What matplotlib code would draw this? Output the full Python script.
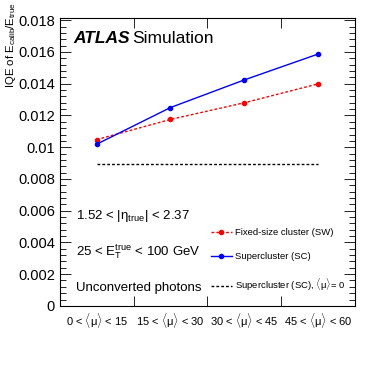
import numpy as np
import matplotlib.pyplot as plt
from matplotlib.ticker import MultipleLocator, FixedLocator, NullFormatter

plt.rcParams['font.family'] = ['Liberation Sans', 'DejaVu Sans']
plt.rcParams['mathtext.fontset'] = 'custom'
plt.rcParams['mathtext.rm'] = 'Liberation Sans'
plt.rcParams['mathtext.it'] = 'Liberation Sans:italic'

# data
bins = [r'0 < $\langle\mathrm{\mu}\rangle$ < 15', r'15 < $\langle\mathrm{\mu}\rangle$ < 30',
        r'30 < $\langle\mathrm{\mu}\rangle$ < 45', r'45 < $\langle\mathrm{\mu}\rangle$ < 60']
sw = [0.01048, 0.01175, 0.0128, 0.01399]
sc = [0.01019, 0.0125, 0.01424, 0.01587]
sc_mu0 = [0.00895, 0.00895, 0.00895, 0.00895]

x = np.arange(len(bins)) + 0.5

fig = plt.figure(figsize=(3.74, 3.65), dpi=100)
ax = fig.add_axes([0.160, 0.162, 0.789, 0.789])

ax.plot(x, sw, color='red', linestyle=(0, (2, 1.5)), lw=1, marker='o', ms=3,
        label='Fixed-size cluster (SW)')
ax.plot(x, sc, color='blue', lw=1, marker='o', ms=3, label='Supercluster (SC)')
ax.plot(x, sc_mu0, color='black', linestyle=(0, (2, 1.5)), lw=1,
        label=r'Supercluster (SC), $\langle\mathrm{\mu}\rangle$= 0')

ax.set_xlim(0, 4)
ax.set_ylim(0, 0.01815)

ax.xaxis.set_major_locator(FixedLocator([1, 2, 3]))
ax.xaxis.set_major_formatter(NullFormatter())
ax.xaxis.set_minor_locator(FixedLocator(x))
ax.set_xticklabels(bins, minor=True, fontsize=8)
ax.tick_params(axis='x', which='minor', length=0, pad=4)
ax.tick_params(axis='x', which='major', direction='in', length=7, top=True, width=0.6)

ax.yaxis.set_major_locator(MultipleLocator(0.002))
ax.yaxis.set_minor_locator(MultipleLocator(0.0004))
ax.set_yticks(np.arange(0, 0.0181, 0.002))
ax.set_yticklabels(['0', '0.002', '0.004', '0.006', '0.008', '0.01',
                    '0.012', '0.014', '0.016', '0.018'], fontsize=10.5)
ax.tick_params(axis='y', which='major', direction='in', length=8, right=True, width=0.6)
ax.tick_params(axis='y', which='minor', direction='in', length=4, right=True, width=0.6)

for s in ax.spines.values():
    s.set_linewidth(0.8)

ax.set_ylabel(r'IQE of E$_{\mathrm{calib}}$/E$_{\mathrm{true}}$', fontsize=8.2, loc='top')
ax.yaxis.set_label_coords(-0.142, 1.055)

ax.text(0.045, 0.93, 'ATLAS', transform=ax.transAxes, fontsize=12.5,
        fontweight='bold', fontstyle='italic', va='center')
ax.text(0.245, 0.93, 'Simulation', transform=ax.transAxes, fontsize=12.5, va='center')

ax.text(0.055, 0.311, r'1.52 < |$\mathrm{\eta}_{\mathrm{true}}$| < 2.37', transform=ax.transAxes,
        fontsize=9.5, va='center')
ax.text(0.055, 0.188, r'25 < E$_{\mathrm{T}}^{\mathrm{true}}$ < 100 GeV', transform=ax.transAxes,
        fontsize=9.5, va='center')
ax.text(0.055, 0.062, 'Unconverted photons', transform=ax.transAxes,
        fontsize=9.5, va='center')

ax.legend(loc='lower left', bbox_to_anchor=(0.49, 0.022), frameon=False, fontsize=6.8,
          handlelength=2.2, handletextpad=0.35, labelspacing=1.62, borderpad=0.2)

fig.savefig('out.png', dpi=100)
